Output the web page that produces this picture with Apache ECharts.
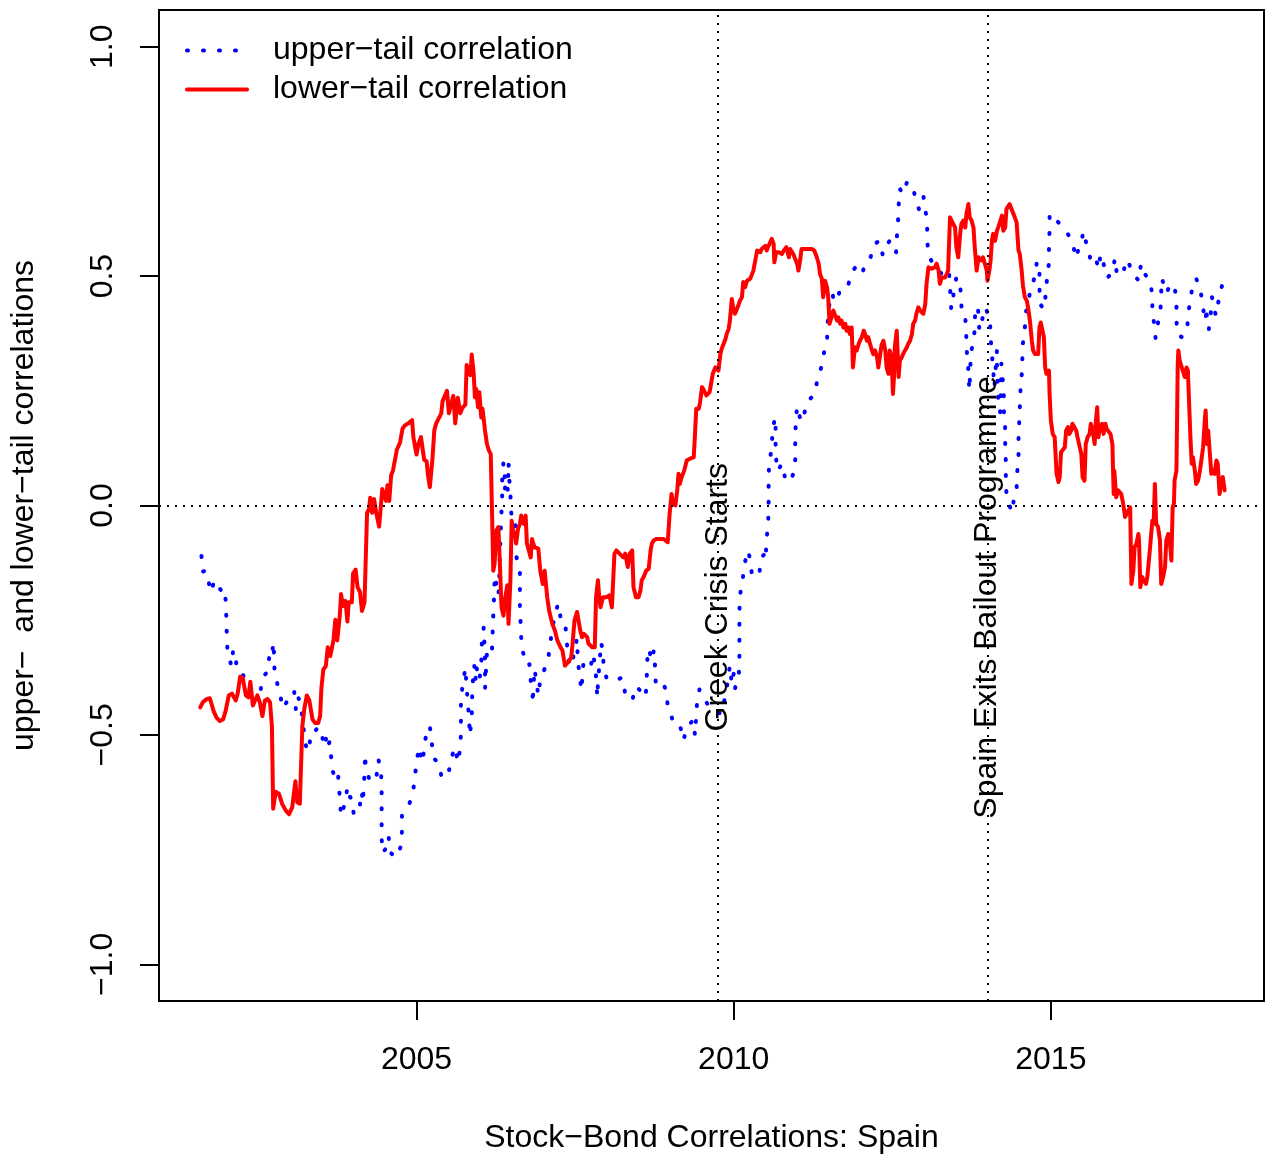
<!DOCTYPE html>
<html>
<head>
<meta charset="utf-8">
<script src="https://cdn.jsdelivr.net/npm/echarts@6/dist/echarts.min.js"></script>
<style>
  html, body { margin: 0; padding: 0; background: #ffffff; }
  #chart { width: 1271px; height: 1162px; }
</style>
</head>
<body>
<div id="chart"></div>
<script>
// Upper-tail stock-bond correlation, Spain: [decimal year, correlation]
const upperTail = [
  [2001.61,-0.110],[2001.63,-0.144],[2001.68,-0.142],[2001.71,-0.154],[2001.75,-0.189],[2001.82,-0.163],[2001.86,-0.174],[2001.92,-0.185],[2001.96,-0.180],[2002.00,-0.214],
  [2002.00,-0.249],[2002.01,-0.284],[2002.02,-0.319],[2002.08,-0.349],[2002.11,-0.315],[2002.14,-0.322],[2002.17,-0.358],[2002.26,-0.367],[2002.34,-0.399],[2002.47,-0.403],
  [2002.54,-0.409],[2002.56,-0.376],[2002.64,-0.364],[2002.68,-0.329],[2002.72,-0.334],[2002.74,-0.298],[2002.76,-0.334],[2002.76,-0.369],[2002.83,-0.399],[2002.86,-0.416],
  [2002.87,-0.434],[2002.89,-0.442],[2002.95,-0.429],[2003.07,-0.404],[2003.10,-0.448],[2003.14,-0.420],[2003.18,-0.433],[2003.20,-0.468],[2003.27,-0.536],[2003.30,-0.530],
  [2003.34,-0.497],[2003.38,-0.498],[2003.42,-0.488],[2003.50,-0.485],[2003.53,-0.521],[2003.57,-0.505],[2003.58,-0.530],[2003.63,-0.515],[2003.65,-0.542],[2003.67,-0.577],
  [2003.72,-0.592],[2003.76,-0.581],[2003.78,-0.617],[2003.81,-0.677],[2003.88,-0.645],[2003.91,-0.613],[2003.95,-0.635],[2003.99,-0.641],[2004.01,-0.675],[2004.04,-0.671],
  [2004.10,-0.659],[2004.14,-0.624],[2004.15,-0.648],[2004.17,-0.613],[2004.18,-0.579],[2004.19,-0.542],[2004.20,-0.575],[2004.25,-0.594],[2004.31,-0.579],[2004.37,-0.589],
  [2004.40,-0.554],[2004.44,-0.579],[2004.45,-0.615],[2004.45,-0.650],[2004.45,-0.686],[2004.45,-0.722],[2004.46,-0.757],[2004.51,-0.749],[2004.52,-0.728],[2004.56,-0.722],
  [2004.59,-0.757],[2004.68,-0.767],[2004.75,-0.744],[2004.77,-0.710],[2004.77,-0.674],[2004.82,-0.663],[2004.84,-0.663],[2004.89,-0.649],[2004.95,-0.619],[2004.98,-0.584],
  [2005.01,-0.549],[2005.05,-0.527],[2005.08,-0.560],[2005.13,-0.529],[2005.15,-0.493],[2005.21,-0.481],[2005.24,-0.517],[2005.27,-0.551],[2005.34,-0.560],[2005.40,-0.594],
  [2005.44,-0.594],[2005.51,-0.579],[2005.55,-0.549],[2005.61,-0.527],[2005.65,-0.560],[2005.69,-0.529],[2005.70,-0.493],[2005.70,-0.458],[2005.70,-0.422],[2005.73,-0.389],
  [2005.77,-0.354],[2005.79,-0.399],[2005.81,-0.431],[2005.83,-0.469],[2005.84,-0.501],[2005.87,-0.465],[2005.88,-0.396],[2005.90,-0.363],[2005.91,-0.349],[2005.93,-0.381],
  [2005.94,-0.349],[2005.97,-0.347],[2005.99,-0.381],[2006.02,-0.347],[2006.03,-0.301],[2006.06,-0.265],[2006.08,-0.334],[2006.08,-0.399],[2006.11,-0.320],[2006.18,-0.327],
  [2006.20,-0.294],[2006.20,-0.258],[2006.22,-0.222],[2006.22,-0.185],[2006.24,-0.153],[2006.28,-0.196],[2006.30,-0.185],[2006.31,-0.120],[2006.33,-0.047],[2006.34,-0.011],
  [2006.35,0.025],[2006.35,0.062],[2006.37,0.094],[2006.39,0.069],[2006.39,0.033],[2006.41,0.054],[2006.44,0.033],[2006.45,0.094],[2006.46,0.062],[2006.48,0.025],
  [2006.49,-0.011],[2006.51,-0.040],[2006.56,-0.040],[2006.57,-0.109],[2006.63,-0.145],[2006.63,-0.182],[2006.63,-0.218],[2006.64,-0.254],[2006.65,-0.287],[2006.68,-0.321],
  [2006.74,-0.349],[2006.78,-0.346],[2006.80,-0.381],[2006.83,-0.396],[2006.83,-0.432],[2006.86,-0.356],[2006.87,-0.359],[2006.92,-0.414],[2006.95,-0.381],[2007.03,-0.352],
  [2007.07,-0.338],[2007.11,-0.301],[2007.14,-0.265],[2007.19,-0.236],[2007.23,-0.214],[2007.28,-0.251],[2007.34,-0.254],[2007.36,-0.280],[2007.38,-0.316],[2007.41,-0.351],
  [2007.46,-0.338],[2007.49,-0.316],[2007.53,-0.290],[2007.54,-0.327],[2007.56,-0.359],[2007.60,-0.403],[2007.63,-0.345],[2007.69,-0.352],[2007.74,-0.356],[2007.78,-0.323],
  [2007.82,-0.352],[2007.85,-0.418],[2007.86,-0.385],[2007.88,-0.352],[2007.91,-0.298],[2007.94,-0.320],[2007.95,-0.356],[2008.00,-0.378],[2008.11,-0.374],[2008.19,-0.378],
  [2008.24,-0.375],[2008.29,-0.410],[2008.34,-0.421],[2008.40,-0.425],[2008.46,-0.394],[2008.57,-0.410],[2008.61,-0.418],[2008.63,-0.381],[2008.63,-0.345],[2008.66,-0.312],
  [2008.71,-0.338],[2008.74,-0.316],[2008.76,-0.349],[2008.77,-0.385],[2008.82,-0.378],[2008.87,-0.385],[2008.94,-0.403],[2008.96,-0.439],[2009.04,-0.468],[2009.09,-0.483],
  [2009.16,-0.483],[2009.21,-0.512],[2009.24,-0.494],[2009.29,-0.479],[2009.36,-0.468],[2009.39,-0.501],[2009.42,-0.505],[2009.42,-0.434],[2009.46,-0.401],[2009.51,-0.412],
  [2009.57,-0.429],[2009.62,-0.439],[2009.71,-0.450],[2009.81,-0.454],[2009.89,-0.399],[2009.94,-0.349],[2009.97,-0.389],[2010.00,-0.367],[2010.02,-0.399],[2010.08,-0.370],
  [2010.09,-0.338],[2010.09,-0.301],[2010.09,-0.265],[2010.09,-0.230],[2010.10,-0.195],[2010.14,-0.163],[2010.17,-0.127],[2010.23,-0.098],[2010.26,-0.120],[2010.29,-0.153],
  [2010.35,-0.156],[2010.41,-0.142],[2010.43,-0.114],[2010.48,-0.107],[2010.51,-0.118],[2010.51,-0.082],[2010.54,-0.047],[2010.55,-0.011],[2010.55,0.024],[2010.55,0.060],
  [2010.56,0.094],[2010.60,0.124],[2010.61,0.160],[2010.65,0.192],[2010.66,0.171],[2010.66,0.136],[2010.67,0.100],[2010.69,0.075],[2010.76,0.091],[2010.81,0.060],
  [2010.89,0.051],[2010.97,0.080],[2010.97,0.116],[2010.97,0.150],[2010.98,0.187],[2011.00,0.216],[2011.06,0.183],[2011.10,0.187],[2011.14,0.223],[2011.28,0.243],
  [2011.32,0.276],[2011.39,0.305],[2011.43,0.338],[2011.47,0.356],[2011.48,0.390],[2011.49,0.426],[2011.55,0.463],[2011.59,0.444],[2011.63,0.447],[2011.69,0.478],
  [2011.81,0.483],[2011.88,0.512],[2011.94,0.523],[2012.03,0.507],[2012.07,0.527],[2012.15,0.537],[2012.21,0.568],[2012.29,0.577],[2012.35,0.546],[2012.40,0.566],
  [2012.46,0.577],[2012.51,0.575],[2012.53,0.566],[2012.56,0.552],[2012.57,0.581],[2012.59,0.617],[2012.60,0.654],[2012.62,0.690],[2012.67,0.679],[2012.73,0.704],
  [2012.82,0.699],[2012.87,0.665],[2012.92,0.646],[2012.99,0.675],[2013.02,0.646],[2013.04,0.627],[2013.05,0.616],[2013.05,0.581],[2013.07,0.545],[2013.17,0.520],
  [2013.28,0.505],[2013.39,0.515],[2013.41,0.479],[2013.42,0.447],[2013.43,0.428],[2013.47,0.465],[2013.51,0.497],[2013.57,0.490],[2013.58,0.454],[2013.60,0.418],
  [2013.65,0.412],[2013.66,0.391],[2013.67,0.356],[2013.68,0.320],[2013.71,0.283],[2013.71,0.251],[2013.72,0.265],[2013.74,0.334],[2013.79,0.363],[2013.80,0.396],
  [2013.81,0.432],[2013.85,0.432],[2013.87,0.392],[2013.87,0.381],[2013.93,0.412],[2013.97,0.432],[2014.00,0.436],[2014.04,0.403],[2014.05,0.367],[2014.07,0.330],
  [2014.09,0.298],[2014.11,0.258],[2014.13,0.301],[2014.15,0.338],[2014.15,0.303],[2014.17,0.229],[2014.20,0.203],[2014.21,0.240],[2014.22,0.309],[2014.24,0.276],
  [2014.26,0.236],[2014.26,0.203],[2014.28,0.167],[2014.28,0.131],[2014.29,0.094],[2014.29,0.062],[2014.30,0.025],[2014.34,0.011],[2014.37,-0.015],[2014.41,0.007],
  [2014.43,0.025],[2014.46,0.036],[2014.47,0.073],[2014.49,0.109],[2014.49,0.145],[2014.50,0.179],[2014.51,0.213],[2014.52,0.249],[2014.54,0.283],[2014.55,0.318],
  [2014.56,0.354],[2014.59,0.388],[2014.61,0.423],[2014.68,0.470],[2014.75,0.500],[2014.78,0.532],[2014.82,0.511],[2014.82,0.476],[2014.83,0.439],[2014.89,0.428],
  [2014.92,0.461],[2014.94,0.496],[2014.97,0.529],[2014.97,0.565],[2014.98,0.601],[2014.98,0.636],[2015.06,0.625],[2015.14,0.614],[2015.24,0.597],[2015.30,0.585],
  [2015.35,0.570],[2015.39,0.539],[2015.46,0.568],[2015.52,0.598],[2015.57,0.563],[2015.64,0.530],[2015.70,0.539],[2015.76,0.516],[2015.78,0.548],[2015.85,0.518],
  [2015.89,0.496],[2015.97,0.508],[2016.01,0.539],[2016.04,0.505],[2016.14,0.503],[2016.18,0.536],[2016.23,0.527],[2016.25,0.527],[2016.32,0.500],[2016.39,0.490],
  [2016.42,0.527],[2016.49,0.503],[2016.57,0.487],[2016.60,0.456],[2016.60,0.420],[2016.64,0.387],[2016.65,0.365],[2016.69,0.399],[2016.73,0.431],[2016.74,0.467],
  [2016.75,0.495],[2016.82,0.463],[2016.89,0.483],[2016.95,0.479],[2016.98,0.444],[2016.98,0.409],[2016.99,0.374],[2017.06,0.367],[2017.15,0.380],[2017.16,0.415],
  [2017.20,0.448],[2017.23,0.476],[2017.29,0.495],[2017.36,0.471],[2017.39,0.436],[2017.44,0.402],[2017.45,0.432],[2017.46,0.409],[2017.49,0.383],[2017.52,0.419],
  [2017.54,0.454],[2017.57,0.450],[2017.60,0.414],[2017.63,0.436],[2017.67,0.466],[2017.71,0.484],[2017.74,0.490]
];

// Lower-tail stock-bond correlation, Spain: [decimal year, correlation]
const lowerTail = [
  [2001.59,-0.440],[2001.63,-0.429],[2001.69,-0.422],[2001.74,-0.420],[2001.77,-0.433],[2001.80,-0.448],[2001.85,-0.463],[2001.90,-0.470],[2001.95,-0.466],[2001.99,-0.448],
  [2002.04,-0.414],[2002.09,-0.410],[2002.15,-0.425],[2002.18,-0.410],[2002.22,-0.373],[2002.26,-0.376],[2002.31,-0.414],[2002.35,-0.418],[2002.38,-0.384],[2002.42,-0.436],
  [2002.45,-0.440],[2002.49,-0.414],[2002.53,-0.429],[2002.57,-0.459],[2002.61,-0.425],[2002.65,-0.422],[2002.69,-0.429],[2002.72,-0.481],[2002.74,-0.661],[2002.78,-0.624],
  [2002.83,-0.628],[2002.88,-0.650],[2002.94,-0.665],[2002.99,-0.673],[2003.04,-0.658],[2003.09,-0.601],[2003.12,-0.647],[2003.16,-0.650],[2003.20,-0.481],[2003.23,-0.444],
  [2003.27,-0.414],[2003.31,-0.425],[2003.36,-0.466],[2003.40,-0.474],[2003.45,-0.474],[2003.48,-0.459],[2003.50,-0.399],[2003.53,-0.358],[2003.57,-0.350],[2003.60,-0.309],
  [2003.64,-0.328],[2003.69,-0.294],[2003.72,-0.249],[2003.75,-0.294],[2003.79,-0.241],[2003.81,-0.193],[2003.84,-0.219],[2003.88,-0.208],[2003.91,-0.253],[2003.93,-0.211],
  [2003.98,-0.211],[2004.00,-0.148],[2004.04,-0.140],[2004.07,-0.178],[2004.11,-0.189],[2004.14,-0.230],[2004.18,-0.211],[2004.22,-0.016],[2004.25,-0.009],[2004.27,0.017],
  [2004.30,-0.016],[2004.33,0.014],[2004.37,-0.020],[2004.41,-0.046],[2004.44,-0.050],[2004.46,0.036],[2004.49,0.040],[2004.52,0.010],[2004.54,0.044],[2004.57,0.010],
  [2004.60,0.066],[2004.63,0.077],[2004.65,0.074],[2004.69,0.122],[2004.74,0.137],[2004.78,0.168],[2004.82,0.175],[2004.87,0.179],[2004.93,0.186],[2004.95,0.149],
  [2005.00,0.111],[2005.03,0.134],[2005.07,0.149],[2005.12,0.100],[2005.16,0.096],[2005.18,0.066],[2005.21,0.040],[2005.25,0.100],[2005.28,0.164],[2005.31,0.179],
  [2005.34,0.182],[2005.39,0.201],[2005.41,0.227],[2005.44,0.231],[2005.48,0.250],[2005.51,0.201],[2005.54,0.201],[2005.58,0.239],[2005.61,0.179],[2005.65,0.235],
  [2005.69,0.201],[2005.72,0.212],[2005.77,0.220],[2005.79,0.306],[2005.82,0.310],[2005.85,0.284],[2005.87,0.329],[2005.90,0.290],[2005.92,0.236],[2005.94,0.254],
  [2005.97,0.214],[2005.99,0.247],[2006.02,0.192],[2006.04,0.211],[2006.08,0.163],[2006.10,0.163],[2006.11,0.134],[2006.14,0.120],[2006.17,0.112],[2006.19,0.109],
  [2006.21,-0.142],[2006.23,-0.127],[2006.26,-0.054],[2006.29,-0.047],[2006.31,-0.113],[2006.34,-0.222],[2006.37,-0.240],[2006.40,-0.200],[2006.43,-0.174],[2006.45,-0.258],
  [2006.48,-0.163],[2006.50,-0.033],[2006.52,-0.054],[2006.55,-0.062],[2006.57,-0.083],[2006.60,-0.051],[2006.63,-0.040],[2006.65,-0.022],[2006.69,-0.040],[2006.72,-0.022],
  [2006.74,-0.083],[2006.77,-0.098],[2006.80,-0.113],[2006.82,-0.073],[2006.86,-0.091],[2006.92,-0.094],[2006.95,-0.142],[2006.99,-0.171],[2007.02,-0.142],[2007.06,-0.200],
  [2007.09,-0.229],[2007.14,-0.258],[2007.18,-0.272],[2007.22,-0.294],[2007.27,-0.309],[2007.30,-0.316],[2007.34,-0.349],[2007.37,-0.351],[2007.41,-0.338],[2007.44,-0.330],
  [2007.46,-0.301],[2007.49,-0.251],[2007.53,-0.232],[2007.56,-0.236],[2007.58,-0.272],[2007.61,-0.287],[2007.64,-0.280],[2007.69,-0.287],[2007.71,-0.301],[2007.77,-0.309],
  [2007.81,-0.309],[2007.83,-0.200],[2007.86,-0.163],[2007.88,-0.200],[2007.90,-0.222],[2007.94,-0.200],[2007.99,-0.200],[2008.04,-0.196],[2008.08,-0.222],[2008.12,-0.105],
  [2008.15,-0.098],[2008.20,-0.105],[2008.26,-0.113],[2008.29,-0.105],[2008.33,-0.134],[2008.36,-0.105],[2008.40,-0.098],[2008.42,-0.178],[2008.46,-0.200],[2008.50,-0.200],
  [2008.53,-0.185],[2008.55,-0.163],[2008.58,-0.156],[2008.62,-0.142],[2008.66,-0.138],[2008.69,-0.098],[2008.71,-0.083],[2008.74,-0.076],[2008.78,-0.073],[2008.84,-0.073],
  [2008.89,-0.073],[2008.96,-0.080],[2008.99,-0.018],[2009.02,0.025],[2009.04,0.004],[2009.08,0.000],[2009.11,0.033],[2009.13,0.069],[2009.15,0.047],[2009.18,0.062],
  [2009.22,0.076],[2009.26,0.098],[2009.31,0.102],[2009.37,0.105],[2009.39,0.156],[2009.41,0.211],[2009.45,0.211],[2009.47,0.225],[2009.50,0.258],[2009.53,0.251],
  [2009.57,0.240],[2009.62,0.247],[2009.67,0.287],[2009.71,0.301],[2009.76,0.294],[2009.79,0.330],[2009.81,0.341],[2009.84,0.345],[2009.87,0.363],[2009.89,0.374],
  [2009.92,0.385],[2009.94,0.403],[2009.97,0.450],[2010.00,0.425],[2010.02,0.418],[2010.05,0.428],[2010.08,0.439],[2010.10,0.447],[2010.13,0.454],[2010.15,0.487],
  [2010.18,0.476],[2010.21,0.490],[2010.23,0.487],[2010.26,0.494],[2010.29,0.497],[2010.31,0.512],[2010.34,0.534],[2010.37,0.556],[2010.39,0.559],[2010.42,0.552],
  [2010.44,0.559],[2010.47,0.563],[2010.50,0.566],[2010.52,0.556],[2010.55,0.566],[2010.57,0.570],[2010.60,0.581],[2010.63,0.570],[2010.64,0.530],[2010.67,0.552],
  [2010.71,0.552],[2010.76,0.548],[2010.79,0.556],[2010.83,0.563],[2010.87,0.541],[2010.89,0.559],[2010.92,0.559],[2010.94,0.548],[2010.97,0.537],[2011.00,0.527],
  [2011.02,0.512],[2011.05,0.537],[2011.07,0.559],[2011.13,0.559],[2011.18,0.559],[2011.23,0.559],[2011.27,0.556],[2011.31,0.541],[2011.34,0.527],[2011.36,0.505],
  [2011.39,0.494],[2011.41,0.454],[2011.44,0.490],[2011.47,0.476],[2011.49,0.454],[2011.51,0.396],[2011.54,0.410],[2011.57,0.425],[2011.60,0.428],[2011.63,0.403],
  [2011.65,0.410],[2011.68,0.396],[2011.70,0.403],[2011.73,0.388],[2011.76,0.396],[2011.78,0.381],[2011.81,0.388],[2011.83,0.374],[2011.86,0.388],[2011.88,0.301],
  [2011.90,0.301],[2011.91,0.345],[2011.94,0.338],[2011.97,0.352],[2011.99,0.359],[2012.02,0.367],[2012.05,0.381],[2012.07,0.374],[2012.10,0.359],[2012.12,0.367],
  [2012.15,0.352],[2012.18,0.338],[2012.20,0.330],[2012.23,0.338],[2012.26,0.323],[2012.28,0.301],[2012.31,0.330],[2012.33,0.349],[2012.36,0.359],[2012.39,0.338],
  [2012.41,0.301],[2012.44,0.287],[2012.46,0.338],[2012.49,0.323],[2012.51,0.243],[2012.53,0.287],[2012.54,0.345],[2012.57,0.381],[2012.60,0.280],[2012.62,0.316],
  [2012.65,0.323],[2012.67,0.330],[2012.70,0.338],[2012.73,0.345],[2012.75,0.352],[2012.78,0.359],[2012.81,0.374],[2012.83,0.396],[2012.86,0.403],[2012.88,0.418],
  [2012.91,0.432],[2012.94,0.425],[2012.96,0.428],[2012.99,0.418],[2013.02,0.439],[2013.04,0.483],[2013.07,0.519],[2013.09,0.519],[2013.12,0.516],[2013.15,0.512],
  [2013.17,0.519],[2013.20,0.527],[2013.23,0.512],[2013.25,0.483],[2013.28,0.497],[2013.30,0.497],[2013.33,0.497],[2013.36,0.505],[2013.38,0.512],[2013.41,0.628],
  [2013.44,0.625],[2013.46,0.614],[2013.49,0.606],[2013.51,0.563],[2013.54,0.541],[2013.57,0.592],[2013.59,0.614],[2013.62,0.621],[2013.65,0.606],[2013.67,0.636],
  [2013.70,0.657],[2013.72,0.628],[2013.75,0.621],[2013.78,0.606],[2013.80,0.563],[2013.83,0.512],[2013.86,0.541],[2013.88,0.541],[2013.91,0.534],[2013.93,0.541],
  [2013.96,0.527],[2013.99,0.512],[2014.00,0.490],[2014.03,0.512],[2014.05,0.534],[2014.07,0.577],[2014.09,0.592],[2014.12,0.577],[2014.15,0.599],[2014.17,0.606],
  [2014.20,0.606],[2014.23,0.632],[2014.25,0.599],[2014.28,0.606],[2014.30,0.646],[2014.33,0.650],[2014.35,0.657],[2014.38,0.646],[2014.41,0.636],[2014.43,0.639],
  [2014.46,0.617],[2014.49,0.556],[2014.51,0.548],[2014.54,0.512],[2014.56,0.479],[2014.59,0.454],[2014.62,0.447],[2014.64,0.432],[2014.67,0.403],[2014.70,0.359],
  [2014.72,0.338],[2014.75,0.330],[2014.77,0.327],[2014.80,0.330],[2014.82,0.388],[2014.84,0.399],[2014.87,0.396],[2014.89,0.367],[2014.91,0.301],[2014.93,0.287],
  [2014.96,0.283],[2014.97,0.294],[2014.98,0.243],[2015.00,0.185],[2015.03,0.156],[2015.06,0.149],[2015.09,0.069],[2015.12,0.051],[2015.14,0.062],[2015.16,0.116],
  [2015.19,0.116],[2015.22,0.127],[2015.24,0.163],[2015.27,0.171],[2015.29,0.156],[2015.32,0.163],[2015.34,0.178],[2015.37,0.171],[2015.40,0.163],[2015.42,0.149],
  [2015.45,0.149],[2015.48,0.112],[2015.50,0.062],[2015.53,0.054],[2015.55,0.134],[2015.58,0.149],[2015.61,0.156],[2015.63,0.178],[2015.66,0.163],[2015.69,0.134],
  [2015.71,0.185],[2015.73,0.214],[2015.75,0.149],[2015.77,0.171],[2015.81,0.178],[2015.83,0.156],[2015.86,0.178],[2015.88,0.167],[2015.91,0.171],[2015.94,0.156],
  [2015.97,0.134],[2015.99,0.025],[2016.00,0.076],[2016.03,0.018],[2016.06,0.033],[2016.08,0.033],[2016.11,0.025],[2016.14,0.004],[2016.17,-0.025],[2016.19,-0.025],
  [2016.22,-0.011],[2016.25,-0.004],[2016.27,-0.171],[2016.30,-0.142],[2016.32,-0.091],[2016.35,-0.083],[2016.38,-0.062],[2016.39,-0.076],[2016.41,-0.178],[2016.44,-0.156],
  [2016.46,-0.163],[2016.50,-0.171],[2016.52,-0.156],[2016.55,-0.113],[2016.57,-0.113],[2016.60,-0.033],[2016.62,-0.040],[2016.64,0.047],[2016.66,-0.040],[2016.69,-0.047],
  [2016.72,-0.076],[2016.74,-0.171],[2016.77,-0.156],[2016.80,-0.134],[2016.82,-0.076],[2016.85,-0.062],[2016.87,-0.069],[2016.90,-0.120],[2016.92,-0.004],[2016.94,0.004],
  [2016.95,0.054],[2016.98,0.076],[2017.00,0.309],[2017.01,0.338],[2017.03,0.316],[2017.06,0.312],[2017.08,0.294],[2017.11,0.280],[2017.14,0.301],[2017.16,0.294],
  [2017.18,0.221],[2017.20,0.149],[2017.22,0.091],[2017.24,0.105],[2017.27,0.076],[2017.29,0.047],[2017.32,0.054],[2017.35,0.076],[2017.37,0.080],[2017.40,0.127],
  [2017.43,0.192],[2017.44,0.207],[2017.46,0.134],[2017.48,0.163],[2017.50,0.163],[2017.53,0.069],[2017.56,0.076],[2017.58,0.069],[2017.61,0.098],[2017.63,0.091],
  [2017.66,0.025],[2017.69,0.054],[2017.71,0.062],[2017.74,0.033]
];

// Event markers (vertical reference lines with rotated captions)
const eventDates = [2009.75, 2014.0];
const eventLabels = ['Greek Crisis Starts', 'Spain Exits Bailout Programme'];
const eventLabelLevel = -0.2;

// Axis ticks and labels
const xTickValues = [2005, 2010, 2015];
const yTickValues = [-1, -0.5, 0, 0.5, 1];
const seriesNames = ['upper\u2212tail correlation', 'lower\u2212tail correlation'];
const xTitle = 'Stock\u2212Bond Correlations: Spain';
const yTitle = 'upper\u2212  and lower\u2212tail correlations';

const FONT = '"Liberation Sans", Arial, Helvetica, sans-serif';
const fmtY = v => (v < 0 ? '\u2212' : '') + Math.abs(v).toFixed(1);

const chart = echarts.init(document.getElementById('chart'), null, { renderer: 'canvas' });

chart.setOption({
  animation: false,
  backgroundColor: '#ffffff',
  textStyle: { fontFamily: FONT, color: '#000' },
  grid: {
    left: 158, right: 7, top: 10, bottom: 161,
    show: true, borderColor: '#000', borderWidth: 2, backgroundColor: 'transparent'
  },
  legend: {
    orient: 'vertical',
    left: 185, top: 31,
    padding: 0,
    itemWidth: 60, itemHeight: 14, itemGap: 0,
    data: seriesNames,
    selectedMode: false,
    itemStyle: { opacity: 0 },
    lineStyle: { width: 4, cap: 'round' },
    textStyle: { fontSize: 32, color: '#000', fontFamily: FONT, lineHeight: 39, padding: [0, 0, 0, 21] }
  },
  xAxis: {
    type: 'value',
    min: 2000.94, max: 2018.36,
    name: xTitle,
    nameLocation: 'middle',
    nameGap: 121,
    nameTextStyle: { fontSize: 32, color: '#000', fontFamily: FONT },
    axisLine: { show: false, onZero: false },
    splitLine: { show: false },
    axisTick: { show: true, length: 19, customValues: xTickValues, lineStyle: { color: '#000', width: 2 } },
    axisLabel: { customValues: xTickValues, fontSize: 32, color: '#000', margin: 43, fontFamily: FONT, formatter: v => String(v) }
  },
  yAxis: {
    type: 'value',
    min: -1.08, max: 1.08,
    name: yTitle,
    nameLocation: 'middle',
    nameGap: 119,
    nameTextStyle: { fontSize: 32, color: '#000', fontFamily: FONT },
    axisLine: { show: false, onZero: false },
    splitLine: { show: false },
    axisTick: { show: true, length: 19, customValues: yTickValues, lineStyle: { color: '#000', width: 2 } },
    axisLabel: { customValues: yTickValues, rotate: 90, fontSize: 32, color: '#000', margin: 40, fontFamily: FONT, formatter: fmtY }
  },
  series: [
    {
      name: seriesNames[0],
      type: 'line',
      data: upperTail,
      symbol: 'none',
      showSymbol: false,
      silent: true,
      lineStyle: { color: '#0000ff', width: 4, type: [1, 15], cap: 'round', join: 'round' },
      z: 2
    },
    {
      name: seriesNames[1],
      type: 'line',
      data: lowerTail,
      symbol: 'none',
      showSymbol: false,
      silent: true,
      lineStyle: { color: '#ff0000', width: 4, cap: 'round', join: 'round' },
      markLine: {
        silent: true,
        symbol: 'none',
        label: { show: false },
        lineStyle: { color: '#000', width: 2, type: [2, 6] },
        data: eventDates.map(d => ({ xAxis: d })).concat([{ yAxis: 0 }])
      },
      z: 3
    },
    {
      name: 'events',
      type: 'scatter',
      data: eventDates.map((d, i) => [d, eventLabelLevel, eventLabels[i]]),
      symbolSize: 1,
      silent: true,
      itemStyle: { color: 'rgba(0,0,0,0)', opacity: 1 },
      label: {
        show: true,
        position: 'inside',
        rotate: 90,
        fontSize: 32,
        color: '#000',
        opacity: 1,
        textBorderWidth: 0,
        fontFamily: FONT,
        formatter: p => p.data[2]
      },
      z: 5
    }
  ]
});
</script>
</body>
</html>
